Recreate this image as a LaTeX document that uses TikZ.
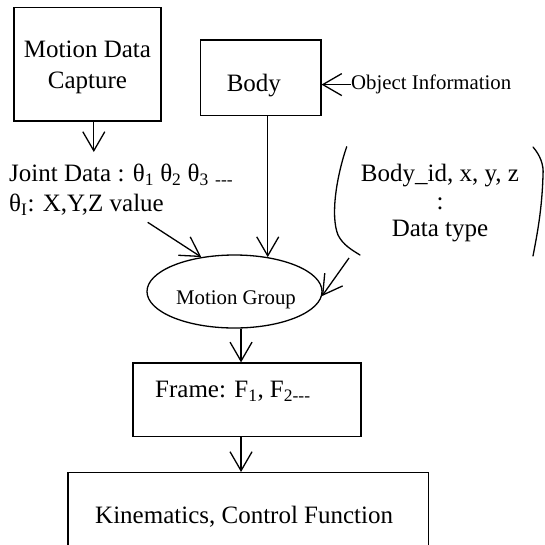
\documentclass[tikz,border=0pt]{standalone}
\usepackage{fontspec}
\setmainfont{Liberation Serif}
\usetikzlibrary{arrows.meta,shapes.geometric,calc}
\tikzset{
  boxnode/.style={draw, line width=1.3pt, rectangle, inner sep=0pt},
  ovalnode/.style={draw, ellipse, line width=1.3pt, inner sep=0pt},
  arr/.style={line width=1.3pt, -{Straight Barb[length=19pt,width=22pt]}},
  brk/.style={line width=1.3pt, line cap=round},
  bigtext/.style={font=\fontsize{25}{31}\selectfont, inner sep=0pt},
  jointtext/.style={font=\fontsize{25}{30}\selectfont, inner sep=0pt},
  midtext/.style={font=\fontsize{25}{27.5}\selectfont, inner sep=0pt},
  smalltext/.style={font=\fontsize{20.8}{24}\selectfont, inner sep=0pt},
}
\begin{document}
\begin{tikzpicture}[x=1pt, y=-1pt]
\useasboundingbox (0,0) rectangle (545,544);
\clip (0,0) rectangle (545,544);
% boxes
\node[boxnode, minimum width=147pt, minimum height=113.4pt] (mdc) at (87.5,64.3) {};
\node[boxnode, minimum width=120.3pt, minimum height=75.7pt] (body) at (260.7,77.9) {};
\node[ovalnode, minimum width=175pt, minimum height=73pt] (mg) at (234.5,291.5) {};
\node[boxnode, minimum width=228pt, minimum height=73.7pt] (frame) at (247,399.9) {};
\node[boxnode, minimum width=360.7pt, minimum height=90pt, anchor=north west] (kin) at (67.3,472) {};
% texts (base anchor = baseline of the last line)
\node[bigtext, anchor=base, align=center] (mdctext) at (87.5,88.4) {Motion Data\\Capture};
\node[bigtext, anchor=base west] (bodytext) at (226.6,91) {Body};
\node[smalltext, anchor=base west] (objinfo) at (351,89.7) {Object Information};
\node[jointtext, anchor=base west, align=left] (joint) at (9,211.7)
  {Joint Data : θ\textsubscript{1} θ\textsubscript{2} θ\textsubscript{3} \textsubscript{-{}-{}-}\\θ\textsubscript{I}: X,Y,Z value};
\node[midtext, anchor=base, align=center] (bid) at (440,236.7) {Body\_id, x, y, z\\:\\Data type};
\node[smalltext, anchor=base] (mgtext) at (236,304) {Motion Group};
\node[bigtext, anchor=base west] (frametext) at (155,397.3) {Frame: F\textsubscript{1}, F\textsubscript{2-{}-{}-}};
\node[bigtext, anchor=base west] (kintext) at (95,523) {Kinematics, Control Function};
% bracket
\draw[brk] (346.7,146.7) .. controls (337,175) and (330,215) .. (338,235) .. controls (343,245) and (352,250) .. (360,255);
\draw[brk] (533,147) .. controls (540,155) and (544,165) .. (543,175) .. controls (542,210) and (537,235) .. (533,256);
% connectors
\coordinate (jd) at (93.8,152);
\draw[arr] (mdc.south -| jd) -- (jd);
\draw[arr] (objinfo.west) -- (objinfo.west -| body.east);
\draw[arr] (body.south -| mg.46.2) -- (mg.46.2);
\coordinate (js) at (147.7,222.3);
\draw[arr] (js) -- (mg.134.6);
\coordinate (bs) at (349,258);
\draw[arr] (bs) -- (mg.-3);
\draw[arr] (mg.-80.3) -- (frame.north -| mg.-80.3);
\draw[arr] (frame.south -| mg.-80.3) -- (kin.north -| mg.-80.3);
\end{tikzpicture}
\end{document}
